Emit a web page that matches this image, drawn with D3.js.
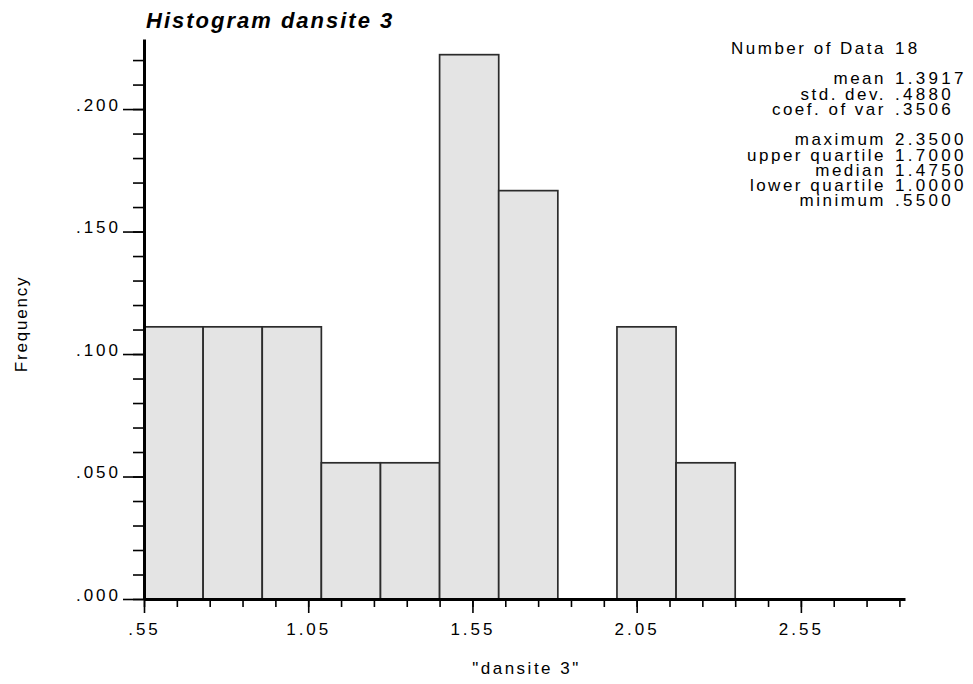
<!DOCTYPE html>
<html>
<head>
<meta charset="utf-8">
<script src="https://cdn.jsdelivr.net/npm/d3@7"></script>
<style>
body { margin: 0; background: #fff; }
svg text { font-family: "Liberation Sans", Arial, sans-serif; fill: #000; }
.axis path, .axis line { stroke: #000; }
</style>
</head>
<body>
<svg id="chart" width="973" height="684"></svg>
<script>
// histogram classes (edges) and frequency of each class
var binEdges = [0.55, 0.73, 0.91, 1.09, 1.27, 1.45, 1.63, 1.81, 1.99, 2.17, 2.35];
var frequencies = [0.1111, 0.1111, 0.1111, 0.0556, 0.0556, 0.2222, 0.1667, 0, 0.1111, 0.0556];

// labelled ticks
var xTickValues = [0.55, 1.05, 1.55, 2.05, 2.55];
var yTickValues = [0, 0.05, 0.10, 0.15, 0.20];

// summary statistics block
var statLabels = ["Number of Data", "mean", "std. dev.", "coef. of var",
	"maximum", "upper quartile", "median", "lower quartile", "minimum"];
var statValues = ["18", "1.3917", ".4880", ".3506",
	"2.3500", "1.7000", "1.4750", "1.0000", ".5500"];
var statGroups = [0, 1, 1, 1, 2, 2, 2, 2, 2];

var title = "Histogram dansite 3";
var xTitle = "\"dansite 3\"";
var yTitle = "Frequency";

var margin = {left: 144, top: 39, right: 68, bottom: 85};
var W = 973, H = 684;

var svg = d3.select("#chart");

var x = d3.scaleLinear()
	.domain([0.55, 2.867])
	.range([margin.left, W - margin.right]);

var y = d3.scaleLinear()
	.domain([0, 0.2286])
	.range([H - margin.bottom, margin.top]);

// strip leading zero the way the old plotting program does
function noZero(fmt) {
	var f = d3.format(fmt);
	return function(d) { return f(d).replace(/^0\./, "."); };
}

// bars
var bins = frequencies.map(function(f, i) {
	return {x0: binEdges[i], x1: binEdges[i + 1], f: f};
}).filter(function(d) { return d.f > 0; });

svg.append("g").selectAll("rect")
	.data(bins)
	.enter()
	.append("rect")
	.attr("x", function(d) { return x(d.x0); })
	.attr("width", function(d) { return x(d.x1) - x(d.x0); })
	.attr("y", function(d) { return y(d.f); })
	.attr("height", function(d) { return y(0) - y(d.f); })
	.style("fill", "#e4e4e4")
	.style("stroke", "#2b2b2b")
	.style("stroke-width", 1.7);

// x axis: minor ticks every .1, major every .5
var xMinor = d3.range(0.55, 2.87, 0.1);
var gx = svg.append("g").attr("class", "axis")
	.attr("transform", "translate(0," + y(0) + ")");
gx.append("g")
	.call(d3.axisBottom(x).tickValues(xMinor).tickSize(8).tickSizeOuter(0).tickFormat(""))
	.call(function(g) { g.select(".domain").remove(); });
gx.append("g")
	.call(d3.axisBottom(x).tickValues(xTickValues).tickSize(14).tickSizeOuter(0).tickFormat(noZero(".2f")))
	.call(function(g) {
		g.select(".domain").style("stroke-width", 3);
		g.selectAll("text").attr("y", 36).attr("dy", 0)
			.style("font-size", "17px").style("letter-spacing", "3px");
	});
gx.selectAll(".tick line").style("stroke-width", 1.6);

// y axis: minor ticks every .01, major every .05
var yMinor = d3.range(0, 0.2286, 0.01);
var gy = svg.append("g").attr("class", "axis")
	.attr("transform", "translate(" + x(0.55) + ",0)");
gy.append("g")
	.call(d3.axisLeft(y).tickValues(yMinor).tickSize(11).tickSizeOuter(0).tickFormat(""))
	.call(function(g) { g.select(".domain").remove(); });
gy.append("g")
	.call(d3.axisLeft(y).tickValues(yTickValues).tickSize(21).tickSizeOuter(0).tickFormat(noZero(".3f")))
	.call(function(g) {
		g.select(".domain").style("stroke-width", 3);
		g.selectAll("text").attr("x", -23).attr("dy", 1)
			.style("font-size", "17px").style("letter-spacing", "3px");
	});
gy.selectAll(".tick line").style("stroke-width", 1.6);

// titles
svg.append("text")
	.attr("x", x(0.55) + 2)
	.attr("y", 28)
	.style("font-size", "22px")
	.style("font-weight", "bold")
	.style("font-style", "italic")
	.style("letter-spacing", "2px")
	.text(title);

svg.append("text")
	.attr("x", (x.range()[0] + x.range()[1]) / 2 + 2)
	.attr("y", 674)
	.style("text-anchor", "middle")
	.style("font-size", "17px")
	.style("letter-spacing", "2.5px")
	.text(xTitle);

svg.append("text")
	.attr("transform", "translate(27," + 324 + ")rotate(-90)")
	.style("text-anchor", "middle")
	.style("font-size", "17px")
	.style("letter-spacing", "1.8px")
	.text(yTitle);

// stats block
var stats = svg.append("g");
statLabels.forEach(function(lab, i) {
	var by = 54 + i * 15.3 + statGroups[i] * 15;
	stats.append("text")
		.attr("x", 886).attr("y", by)
		.style("text-anchor", "end")
		.style("font-size", "17px")
		.style("letter-spacing", "2.5px")
		.text(lab);
	stats.append("text")
		.attr("x", 895).attr("y", by)
		.style("font-size", "17px")
		.style("letter-spacing", "3.3px")
		.text(statValues[i]);
});
</script>
</body>
</html>
